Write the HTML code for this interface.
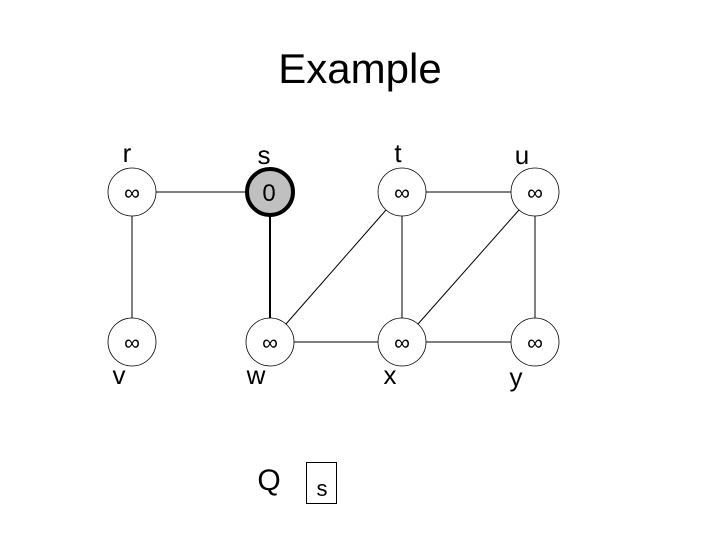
<!DOCTYPE html>
<html><head><style>
body{margin:0;background:#fff;}
svg text{font-family:"Liberation Sans",sans-serif;fill:#000;}
</style></head><body>
<svg width="720" height="540" xmlns="http://www.w3.org/2000/svg">
<rect width="720" height="540" fill="#fff"/>
<text x="360" y="83" font-size="42" text-anchor="middle">Example</text>
<g stroke="#000" stroke-width="1" fill="none">
<line x1="156" y1="192" x2="246" y2="192"/>
<line x1="132" y1="216" x2="132" y2="318"/>
<line x1="402" y1="216" x2="402" y2="318"/>
<line x1="535" y1="216" x2="535" y2="318"/>
<line x1="292" y1="342" x2="378" y2="342"/>
<line x1="424" y1="342" x2="511" y2="342"/>
<line x1="424" y1="192" x2="511" y2="192"/>
<line x1="386" y1="210" x2="286" y2="324"/>
<line x1="519" y1="210" x2="418" y2="324"/>
<line x1="270" y1="216" x2="270" y2="318" stroke-width="2"/>
</g>
<g stroke="#000" stroke-width="0.8" fill="#fff">
<circle cx="132" cy="192" r="24"/>
<circle cx="402" cy="192" r="24"/>
<circle cx="535" cy="192" r="24"/>
<circle cx="132" cy="342" r="24"/>
<circle cx="270" cy="342" r="24"/>
<circle cx="402" cy="342" r="24"/>
<circle cx="535" cy="342" r="24"/>
</g>
<circle cx="270" cy="192" r="23" fill="#c0c0c0" stroke="#000" stroke-width="4"/>
<g font-size="22" text-anchor="middle">
<text x="132" y="200">∞</text>
<text x="402" y="200">∞</text>
<text x="535" y="200">∞</text>
<text x="132" y="350">∞</text>
<text x="270" y="350">∞</text>
<text x="402" y="350">∞</text>
<text x="535" y="350">∞</text>
</g>
<text x="269" y="201" font-size="24" text-anchor="middle">0</text>
<g font-size="26" text-anchor="middle">
<text x="127" y="162">r</text>
<text x="264" y="164">s</text>
<text x="398" y="162">t</text>
<text x="522" y="164">u</text>
<text x="119" y="384">v</text>
<text x="256" y="384">w</text>
<text x="390" y="384">x</text>
<text x="516" y="386">y</text>
<text x="269" y="490" font-size="30">Q</text>
</g>
<rect x="306.5" y="462.5" width="30" height="41" fill="none" stroke="#000" stroke-width="1"/>
<text x="322" y="496" font-size="22" text-anchor="middle">s</text>
</svg>
</body></html>
